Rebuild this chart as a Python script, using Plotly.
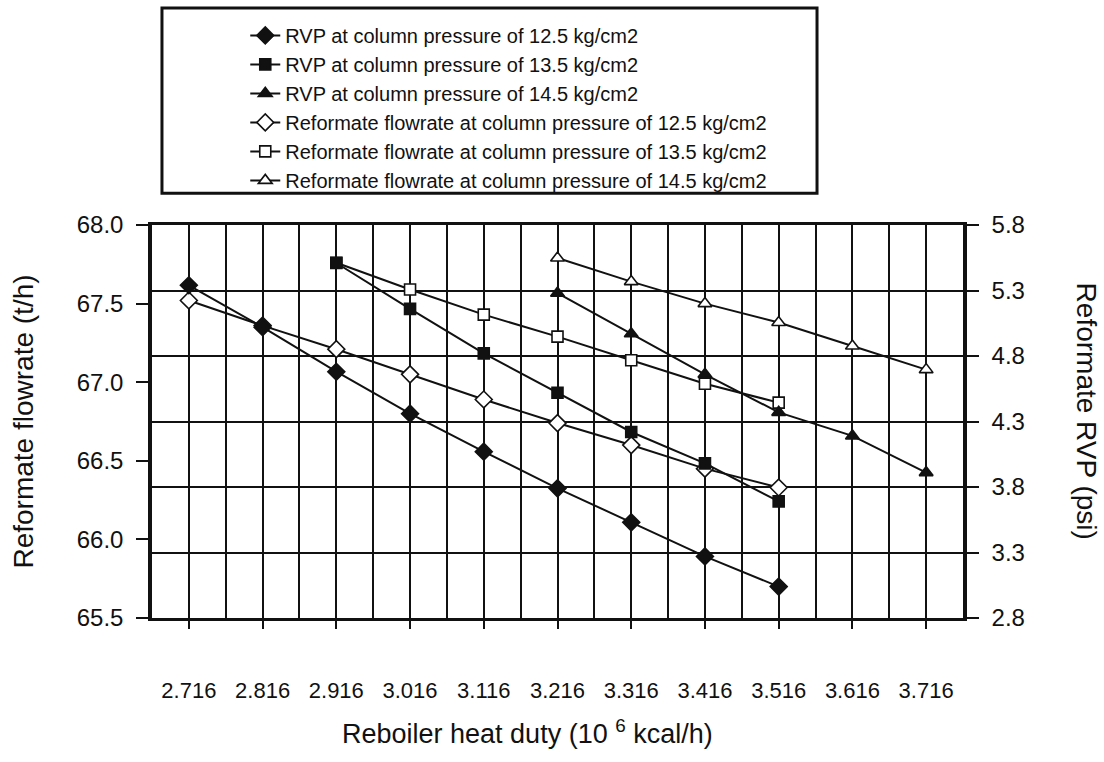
import plotly.graph_objects as go

# ---- data ----
x_labels = ["2.716", "2.816", "2.916", "3.016", "3.116", "3.216",
            "3.316", "3.416", "3.516", "3.616", "3.716"]
heat_duty = [2.716, 2.816, 2.916, 3.016, 3.116, 3.216,
             3.316, 3.416, 3.516, 3.616, 3.716]

x_125 = heat_duty[0:9]
x_135 = heat_duty[2:9]
x_145 = heat_duty[5:11]

rvp_125 = [5.34, 5.02, 4.68, 4.36, 4.07, 3.79, 3.53, 3.27, 3.04]
rvp_135 = [5.51, 5.16, 4.82, 4.52, 4.22, 3.98, 3.69]
rvp_145 = [5.28, 4.97, 4.66, 4.37, 4.19, 3.91]

flow_125 = [67.52, 67.36, 67.21, 67.05, 66.89, 66.74, 66.60, 66.45, 66.33]
flow_135 = [67.76, 67.59, 67.43, 67.29, 67.14, 66.99, 66.87]
flow_145 = [67.79, 67.64, 67.50, 67.38, 67.23, 67.08]

left_ticks = [65.5, 66.0, 66.5, 67.0, 67.5, 68.0]
right_ticks = [2.8, 3.3, 3.8, 4.3, 4.8, 5.3, 5.8]

names = [
    "RVP at column pressure of 12.5 kg/cm2",
    "RVP at column pressure of 13.5 kg/cm2",
    "RVP at column pressure of 14.5 kg/cm2",
    "Reformate flowrate at column pressure of 12.5 kg/cm2",
    "Reformate flowrate at column pressure of 13.5 kg/cm2",
    "Reformate flowrate at column pressure of 14.5 kg/cm2",
]

FONT = "Arial, Liberation Sans, Helvetica, sans-serif"
BLACK = "#111111"

fig = go.Figure()

def add(xs, ys, name, symbol, size, filled, axis):
    fig.add_trace(go.Scatter(
        x=xs, y=ys, name=name, mode="lines+markers", yaxis=axis,
        line=dict(color=BLACK, width=2),
        marker=dict(symbol=symbol, size=size,
                    color=BLACK if filled else "white",
                    line=dict(color=BLACK, width=1.6)),
    ))

add(x_125, rvp_125, names[0], "diamond", 13, True, "y2")
add(x_135, rvp_135, names[1], "square", 11, True, "y2")
add(x_145, rvp_145, names[2], "triangle-up", 12, True, "y2")
add(x_125, flow_125, names[3], "diamond", 13, False, "y")
add(x_135, flow_135, names[4], "square", 11, False, "y")
add(x_145, flow_145, names[5], "triangle-up", 12, False, "y")

fig.update_layout(
    width=1104, height=762,
    margin=dict(l=152, r=141, t=225, b=144),
    paper_bgcolor="white", plot_bgcolor="white",
    font=dict(family=FONT, color=BLACK, size=22),
    showlegend=True,
    legend=dict(
        x=0.115, y=1.532, xanchor="left", yanchor="top",
        bgcolor="rgba(0,0,0,0)", borderwidth=0,
        font=dict(size=20, family=FONT, color=BLACK),
        traceorder="normal", itemwidth=30,
    ),
    xaxis=dict(
        range=[2.666, 3.766],
        tickmode="array", tickvals=heat_duty, ticktext=x_labels,
        ticks="outside", ticklen=8, tickwidth=1.5, tickcolor=BLACK,
        ticklabelstandoff=43,
        showgrid=True, gridcolor=BLACK, gridwidth=1.6,
        minor=dict(tickmode="linear", tick0=2.666, dtick=0.05,
                   showgrid=True, gridcolor=BLACK, gridwidth=1.6, ticks=""),
        showline=True, linecolor=BLACK, linewidth=3, mirror=True,
        zeroline=False,
        tickfont=dict(size=22),
    ),
    yaxis=dict(
        range=[65.5, 68.0],
        tickmode="array", tickvals=left_ticks,
        ticktext=[f"{v:.1f}" for v in left_ticks],
        ticks="outside", ticklen=12, tickwidth=1.5, tickcolor=BLACK,
        ticklabelstandoff=8,
        showgrid=False, zeroline=False,
        showline=True, linecolor=BLACK, linewidth=3.5,
        tickfont=dict(size=24),
        title=dict(text="Reformate flowrate (t/h)", standoff=36,
                   font=dict(size=28)),
    ),
    yaxis2=dict(
        range=[2.8, 5.8], overlaying="y", side="right",
        tickmode="array", tickvals=right_ticks,
        ticktext=[f"{v:.1f}" for v in right_ticks],
        ticks="outside", ticklen=12, tickwidth=1.5, tickcolor=BLACK,
        ticklabelstandoff=8,
        showgrid=True, gridcolor=BLACK, gridwidth=1.6, zeroline=False,
        showline=True, linecolor=BLACK, linewidth=3.5,
        tickfont=dict(size=24),
    ),
    annotations=[
        dict(
            text="Reformate RVP (psi)", textangle=90,
            xref="paper", yref="paper", x=1.152, y=0.527,
            xanchor="center", yanchor="middle", showarrow=False,
            font=dict(size=28, family=FONT, color=BLACK),
        ),
        dict(
            text="Reboiler heat duty (10 <sup>6</sup> kcal/h)",
            xref="paper", yref="paper", x=0.4636, y=-0.29,
            xanchor="center", yanchor="middle", showarrow=False,
            font=dict(size=27, family=FONT, color=BLACK),
        ),
    ],
    shapes=[dict(
        type="rect", xref="paper", yref="paper",
        x0=0.0123, x1=0.82, y0=1.081, y1=1.552,
        line=dict(color=BLACK, width=3), fillcolor="rgba(0,0,0,0)",
        layer="below",
    )],
)

fig.write_html("out.html")
